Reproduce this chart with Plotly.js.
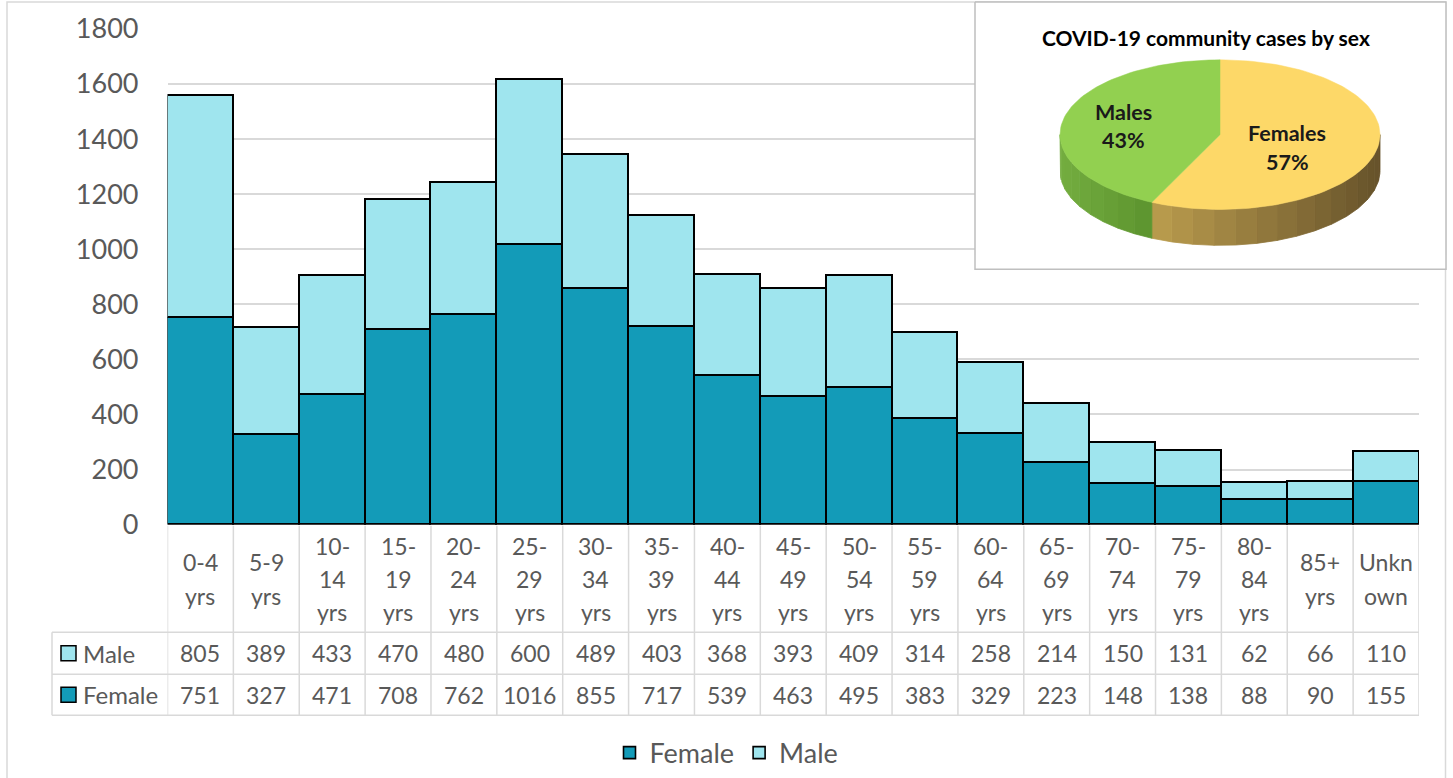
<!DOCTYPE html>
<html>
<head>
<meta charset="utf-8">
<script src="https://cdn.plot.ly/plotly-3.0.1.min.js"></script>
<style>html,body{margin:0;padding:0;background:#fff;}#chart{width:1453px;height:778px;}</style>
</head>
<body>
<div id="chart"></div>
<script>
// ---- data ----
const categories = ["0-4<br>yrs","5-9<br>yrs","10-<br>14<br>yrs","15-<br>19<br>yrs","20-<br>24<br>yrs","25-<br>29<br>yrs","30-<br>34<br>yrs","35-<br>39<br>yrs","40-<br>44<br>yrs","45-<br>49<br>yrs","50-<br>54<br>yrs","55-<br>59<br>yrs","60-<br>64<br>yrs","65-<br>69<br>yrs","70-<br>74<br>yrs","75-<br>79<br>yrs","80-<br>84<br>yrs","85+<br>yrs","Unkn<br>own"];
const male   = [805,389,433,470,480,600,489,403,368,393,409,314,258,214,150,131,62,66,110];
const female = [751,327,471,708,762,1016,855,717,539,463,495,383,329,223,148,138,88,90,155];
const yTicks = [0,200,400,600,800,1000,1200,1400,1600,1800];
const pieTitle = "COVID-19 community cases by sex";
const pieLabels = ["Females","Males"];
const pieShares = [57,43];

// ---- styling helpers ----
const W = 1453, H = 778;
const px = v => v / W;
const py = v => 1 - v / H;
const FEMALE_C = '#139bb8', MALE_C = '#9fe5ee';
const GRID = '#d9d9d9', TXT = '#595959';
const FONT = 'Lato, "Open Sans", sans-serif';

const traces = [
  {type:'bar', name:'Female', x:categories, y:female, marker:{color:FEMALE_C, line:{color:'#000', width:1.6}}, hoverinfo:'y+name'},
  {type:'bar', name:'Male', x:categories, y:male, marker:{color:MALE_C, line:{color:'#000', width:1.6}}, hoverinfo:'y+name'}
];

// ---- inset pie (pseudo 3D, drawn on its own pixel-unit axes) ----
const cx = 1220, cy = 135, rx = 160, ry = 75, depth = 36;
function pt(t, dy) { return [cx + rx * Math.sin(t), cy - ry * Math.cos(t) + (dy || 0)]; }
function hex2rgb(h){ return [parseInt(h.slice(1,3),16),parseInt(h.slice(3,5),16),parseInt(h.slice(5,7),16)]; }
function mix(a,b,f){ const A=hex2rgb(a),B=hex2rgb(b); return 'rgb('+A.map((v,i)=>Math.round(v+(B[i]-v)*f)).join(',')+')'; }

// white box
traces.push({type:'scatter', mode:'lines', xaxis:'x2', yaxis:'y2', x:[975,1446,1446,975,975], y:[2,2,270,270,2],
  fill:'toself', fillcolor:'#ffffff', line:{color:'#bfbfbf', width:1.5}, hoverinfo:'skip', showlegend:false});

const total = pieShares.reduce((a,b)=>a+b,0);
const sliceTop = ['#fdd868', '#92d050'];
const sideLeft = ['#bb9d4e', '#74ad40'];
const sideRight = ['#66522a', '#5c942e'];
let acc = 0;
const slices = pieShares.map((s,i)=>{ const a = acc/total*2*Math.PI; acc += s; return [a, acc/total*2*Math.PI]; });

// side walls (front half only)
slices.forEach((sl,i)=>{
  const a = Math.max(sl[0], Math.PI/2), b = Math.min(sl[1], 3*Math.PI/2);
  if (b <= a) return;
  const nb = Math.max(4, Math.round((b-a)/(Math.PI)*24));
  const xl = Math.min(pt(a)[0], pt(b)[0]), xr = Math.max(pt(a)[0], pt(b)[0]);
  for (let k=0;k<nb;k++){
    const t0 = a + (b-a)*k/nb, t1 = a + (b-a)*(k+1)/nb;
    const xs=[], ys=[];
    for (let j=0;j<=6;j++){ const p = pt(t0+(t1-t0)*j/6); xs.push(p[0]); ys.push(p[1]); }
    for (let j=6;j>=0;j--){ const p = pt(t0+(t1-t0)*j/6, depth); xs.push(p[0]); ys.push(p[1]); }
    xs.push(xs[0]); ys.push(ys[0]);
    const xm = pt((t0+t1)/2)[0];
    const f = (xm - xl)/(xr - xl);
    const col = mix(sideLeft[i], sideRight[i], f);
    traces.push({type:'scatter', mode:'lines', xaxis:'x2', yaxis:'y2', x:xs, y:ys, fill:'toself', fillcolor:col,
      line:{color:col, width:0.8}, hoverinfo:'skip', showlegend:false});
  }
});
// top faces
slices.forEach((sl,i)=>{
  const xs=[cx], ys=[cy];
  const n = Math.max(8, Math.round((sl[1]-sl[0])/(2*Math.PI)*180));
  for (let j=0;j<=n;j++){ const p = pt(sl[0]+(sl[1]-sl[0])*j/n); xs.push(p[0]); ys.push(p[1]); }
  xs.push(cx); ys.push(cy);
  traces.push({type:'scatter', mode:'lines', xaxis:'x2', yaxis:'y2', x:xs, y:ys, fill:'toself', fillcolor:sliceTop[i],
    line:{color:sliceTop[i], width:0.5}, hoverinfo:'skip', showlegend:false});
});

// ---- table (shapes + annotations) ----
const shapes = [];
const annotations = [];
const lineStyle = {color:GRID, width:1.5};
const n = categories.length;
const headTop = 527, rowM = 634, rowF = 676, rowEnd = 717, tabLeft = 52;
for (let i=0;i<=n;i++){
  shapes.push({type:'line', xref:'x', yref:'paper', x0:i-0.5, x1:i-0.5, y0:py(headTop), y1:py(rowEnd), line:lineStyle, layer:'below'});
}
shapes.push({type:'line', xref:'paper', yref:'paper', x0:px(tabLeft), x1:px(tabLeft), y0:py(rowM), y1:py(rowEnd), line:lineStyle});
[rowM,rowF,rowEnd].forEach(y=>shapes.push({type:'line', xref:'paper', yref:'paper', x0:px(tabLeft), x1:px(1419), y0:py(y), y1:py(y), line:lineStyle}));
// outer border
shapes.push({type:'rect', xref:'paper', yref:'paper', x0:px(7), x1:px(1445.5), y0:-0.05, y1:py(2), line:{color:GRID, width:1.5}, layer:'below'});

// category labels
const headMid = (headTop + rowM)/2, lineGap = 33.5;
categories.forEach((c,i)=>{
  const parts = c.split('<br>');
  parts.forEach((p,k)=>{
    annotations.push({xref:'x', yref:'paper', x:i, y:py(headMid + (k-(parts.length-1)/2)*lineGap), text:p, showarrow:false,
      xanchor:'center', yanchor:'middle', font:{size:23, color:TXT, family:FONT}});
  });
});
const rows = [{name:'Male', vals:male, col:MALE_C, top:rowM, bot:rowF},{name:'Female', vals:female, col:FEMALE_C, top:rowF, bot:rowEnd}];
rows.forEach(r=>{
  const mid = (r.top + r.bot)/2;
  r.vals.forEach((v,i)=>{
    annotations.push({xref:'x', yref:'paper', x:i, y:py(mid), text:String(v), showarrow:false, xanchor:'center', yanchor:'middle',
      font:{size:23, color:TXT, family:FONT}});
  });
  shapes.push({type:'rect', xref:'paper', yref:'paper', x0:px(61), x1:px(76), y0:py(mid+7.5), y1:py(mid-7.5), fillcolor:r.col, line:{color:'#000', width:1.5}});
  annotations.push({xref:'paper', yref:'paper', x:px(81), y:py(mid), text:r.name, showarrow:false, xanchor:'left', yanchor:'middle',
    font:{size:24, color:TXT, family:FONT}});
});

// pie text
annotations.push({xref:'x2', yref:'y2', x:1206, y:38, text:'<b>'+pieTitle+'</b>', showarrow:false, xanchor:'center', yanchor:'middle', font:{size:21, color:'#000', family:FONT}});
const labelPos = [[1287,133,162],[1123,112,140]];
pieLabels.forEach((l,i)=>{
  annotations.push({xref:'x2', yref:'y2', x:labelPos[i][0], y:labelPos[i][1], text:'<b>'+l+'</b>', showarrow:false, xanchor:'center', yanchor:'middle', font:{size:21.5, color:'#1a1a1a', family:FONT}});
  annotations.push({xref:'x2', yref:'y2', x:labelPos[i][0], y:labelPos[i][2], text:'<b>'+pieShares[i]+'%</b>', showarrow:false, xanchor:'center', yanchor:'middle', font:{size:21.5, color:'#1a1a1a', family:FONT}});
});

const layout = {
  width:W, height:H, margin:{l:0,r:0,t:0,b:0}, paper_bgcolor:'#fff', plot_bgcolor:'rgba(0,0,0,0)',
  barmode:'stack', bargap:0, font:{family:FONT, color:TXT},
  xaxis:{domain:[px(167.5),px(1419)], type:'category', range:[-0.5,n-0.5], showticklabels:false, showgrid:false, zeroline:false, showline:false, fixedrange:true},
  yaxis:{domain:[py(526),py(29)], range:[0,1800], tickvals:yTicks, gridcolor:GRID, gridwidth:1.5, zeroline:false, showline:false,
    tickfont:{size:27, color:TXT, family:FONT}, ticklabelstandoff:28, fixedrange:true},
  xaxis2:{domain:[px(960),1], range:[960,1453], visible:false, anchor:'y2', fixedrange:true},
  yaxis2:{domain:[py(290),1], range:[290,0], visible:false, anchor:'x2', fixedrange:true},
  legend:{orientation:'h', x:0.5, xanchor:'center', y:py(755), yanchor:'middle', traceorder:'normal', font:{size:27, color:TXT, family:FONT}, bgcolor:'rgba(0,0,0,0)'},
  showlegend:true, shapes:shapes, annotations:annotations
};
Plotly.newPlot('chart', traces, layout, {displayModeBar:false, staticPlot:false});
</script>
</body>
</html>
